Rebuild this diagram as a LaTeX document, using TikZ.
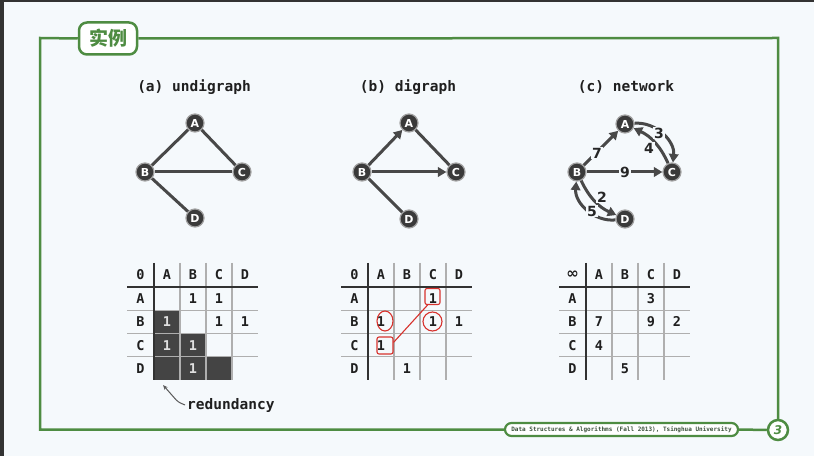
\documentclass[tikz,border=0pt]{standalone}
\usepackage{fontspec}
\setmainfont{DejaVu Sans}
\setsansfont{DejaVu Sans}
\setmonofont{DejaVu Sans Mono}
\newfontfamily\cjkfont{Noto Sans CJK SC}
\usetikzlibrary{arrows.meta,shapes.geometric}

\definecolor{paper}{RGB}{245,249,252}
\definecolor{framegreen}{RGB}{78,140,66}
\definecolor{vtxfill}{RGB}{58,58,58}
\definecolor{vtxring}{RGB}{160,160,160}
\definecolor{edgecol}{RGB}{72,72,72}
\definecolor{gridthin}{RGB}{175,175,175}
\definecolor{gridthick}{RGB}{50,50,50}
\definecolor{cellfill}{RGB}{68,68,68}
\definecolor{markred}{RGB}{215,50,45}
\definecolor{foottext}{RGB}{60,82,60}

\newcommand\setfs[1]{\fontsize{#1bp}{#1bp}\selectfont}

\tikzset{
  vtx/.style={circle, fill=vtxfill, draw=vtxring, line width=1.2bp,
    minimum size=18bp, inner sep=0pt, text=white,
    font=\sffamily\bfseries\setfs{11}},
  edge/.style={draw=edgecol, line width=3bp},
  arr/.style={edge, -{Triangle[length=8.5bp,width=9.5bp]}},
  weight/.style={fill=paper, inner sep=1bp, text=black!85,
    font=\sffamily\bfseries\setfs{14}},
  heading/.style={font=\ttfamily\bfseries\setfs{14.5}, text=black!88},
  cell/.style={font=\ttfamily\bfseries\setfs{13.5}, text=black!88, inner sep=0pt},
  darkcell/.style={cell, text=black!12},
  thickrule/.style={draw=gridthick, line width=2.5bp},
  thinrule/.style={draw=gridthin, line width=1.1bp},
  markbox/.style={draw=markred, line width=1.1bp, rounded corners=2bp,
    inner sep=0pt},
  markoval/.style={ellipse, draw=markred, line width=1.1bp, inner sep=0pt},
  pointer/.style={draw=black!65, line width=1bp, rounded corners=3bp,
    -{Stealth[length=5bp,width=4bp]}},
  framerule/.style={draw=framegreen, line width=2.5bp},
}

% grid of an adjacency table whose thick vertical rule is at x = 0
\newcommand\tablegrid{%
  \foreach \yy in {310.3,333.6,356.9}
    \draw[thinrule] (-27,\yy) -- (104,\yy);
  \foreach \xx in {26,52,78}
    \draw[thinrule] (\xx,263) -- (\xx,380);
  \draw[thickrule] (-27,287) -- (104,287);
  \draw[thickrule] (0,263) -- (0,380);
}
% header row and header column, with the corner symbol as argument
\newcommand\tablehead[2]{%
  \node[cell] (#1-corner) at (-13.5,275) {#2};
  \foreach \lab [count=\k] in {A,B,C,D} {
    \node[cell] (#1-col\lab) at ({13+26*(\k-1)},275) {\lab};
    \node[cell] (#1-row\lab) at (-13.5,{298.6+23.3*(\k-1)}) {\lab};
  }
}

\begin{document}
\begin{tikzpicture}[x=1bp,y=-1bp]
  % page
  \fill[paper] (0,0) rectangle (814,456);
  \useasboundingbox (0,0) rectangle (814,456);
  \fill[black!80] (0,0) rectangle (4,456);
  \fill[black!80] (0,0) rectangle (814,2);

  % frame with title tab, footer and page number
  \node[draw=framegreen, line width=2.5bp, fill=white, rounded corners=8bp,
        minimum width=58bp, minimum height=32bp, inner sep=0pt,
        text=framegreen, font=\cjkfont\bfseries\setfs{19}] (title) at (108,38.5) {实例};
  \node[draw=framegreen, line width=2.2bp, fill=white, rounded corners=6.5bp,
        minimum width=233bp, minimum height=13bp, inner sep=0pt,
        text=foottext, font=\ttfamily\bfseries\setfs{6}] (foot) at (621.5,429.5)
        {Data Structures \& Algorithms (Fall 2013), Tsinghua University};
  \node[circle, draw=framegreen, line width=2.5bp, fill=white,
        minimum size=20bp, inner sep=0pt, text=framegreen,
        font=\sffamily\bfseries\itshape\setfs{12}] (page) at (778,430) {3};
  \coordinate (fbl) at (40,429.5);
  \coordinate (ftl) at (40,38);
  \coordinate (ftr) at (778,38);
  \draw[framerule] (foot.west) -- (fbl) -- (ftl) -- (title.west);
  \draw[framerule] (title.east) -- (ftr) -- (page.north);
  \draw[framerule] (foot.east) -- (page.west);

  % headings
  \node[heading] (ha) at (194,87) {(a) undigraph};
  \node[heading] (hb) at (408,87) {(b) digraph};
  \node[heading] (hc) at (626,87) {(c) network};

  % (a) undirected graph
  \node[vtx] (a-A) at (195,123) {A};
  \node[vtx] (a-B) at (145,172) {B};
  \node[vtx] (a-C) at (242,172) {C};
  \node[vtx] (a-D) at (195,218) {D};
  \draw[edge] (a-A) -- (a-B);
  \draw[edge] (a-A) -- (a-C);
  \draw[edge] (a-B) -- (a-C);
  \draw[edge] (a-B) -- (a-D);

  % (b) directed graph
  \node[vtx] (b-A) at (409,123) {A};
  \node[vtx] (b-B) at (362,172) {B};
  \node[vtx] (b-C) at (456,172) {C};
  \node[vtx] (b-D) at (409,219) {D};
  \draw[arr] (b-B) -- (b-A);
  \draw[arr] (b-B) -- (b-C);
  \draw[edge] (b-A) -- (b-C);
  \draw[edge] (b-B) -- (b-D);

  % (c) network with weights
  \node[vtx] (c-A) at (625,124) {A};
  \node[vtx] (c-B) at (577,172) {B};
  \node[vtx] (c-C) at (672,172) {C};
  \node[vtx] (c-D) at (625,219) {D};
  \draw[arr] (c-B) -- (c-A);
  \draw[arr] (c-B) -- (c-C);
  \draw[arr] (c-A) to[bend left=50] (c-C);
  \draw[arr] (c-C) to[bend right=20] (c-A);
  \draw[arr] (c-B) to[bend right=20] (c-D);
  \draw[arr] (c-D) to[bend left=50] (c-B);
  \node[weight] (w7) at (597,153) {7};
  \node[weight] (w9) at (625,172) {9};
  \node[weight] (w3) at (659,133) {3};
  \node[weight] (w4) at (649,148) {4};
  \node[weight] (w2) at (602,197) {2};
  \node[weight] (w5) at (592,211) {5};

  % (a) adjacency matrix, redundant lower half shaded
  \begin{scope}[shift={(154,0)}]
    \foreach \c/\r in {1/2,1/3,2/3,1/4,2/4,3/4}
      \fill[cellfill] ({26*(\c-1)},{287+23.3*(\r-1)}) rectangle ++(26,23.3);
    \tablegrid
    \tablehead{ta}{0}
    \foreach \c/\r in {2/1,3/1,3/2,4/2}
      \node[cell] (ta-\r-\c) at ({13+26*(\c-1)},{298.6+23.3*(\r-1)}) {1};
    \foreach \c/\r in {1/2,1/3,2/3,2/4}
      \node[darkcell] (ta-\r-\c) at ({13+26*(\c-1)},{298.6+23.3*(\r-1)}) {1};
  \end{scope}
  \coordinate (redtip) at (163,385);
  \node[anchor=west, font=\ttfamily\bfseries\setfs{14.5}, text=black!88,
        inner sep=0pt] (redund) at (187,405) {redundancy};
  \draw[pointer] ([xshift=-2bp]redund.west) -- ++(-7,-3) -- (redtip);

  % (b) adjacency matrix
  \begin{scope}[shift={(368,0)}]
    \tablegrid
    \tablehead{tb}{0}
    \foreach \c/\r in {3/1,1/2,3/2,4/2,1/3,2/4}
      \node[cell] (tb-\r-\c) at ({13+26*(\c-1)},{298.6+23.3*(\r-1)}) {1};
  \end{scope}
  \node[markbox, minimum width=15bp, minimum height=16bp] (mAC) at (432.5,296.5) {};
  \node[markoval, minimum width=16bp, minimum height=20bp] (mBA) at (385,321) {};
  \node[markoval, minimum width=19bp, minimum height=19bp] (mBC) at (432.5,321.5) {};
  \node[markbox, minimum width=16bp, minimum height=17bp] (mCA) at (385,345.5) {};
  \draw[draw=markred, line width=1.1bp] (mAC.-120) -- (mCA.20);

  % (c) weight matrix
  \begin{scope}[shift={(586,0)}]
    \tablegrid
    \tablehead{tc}{\sffamily\bfseries\setfs{15}∞}
    \foreach \c/\r/\w in {3/1/3,1/2/7,3/2/9,4/2/2,1/3/4,2/4/5}
      \node[cell] (tc-\r-\c) at ({13+26*(\c-1)},{298.6+23.3*(\r-1)}) {\w};
  \end{scope}
\end{tikzpicture}
\end{document}
